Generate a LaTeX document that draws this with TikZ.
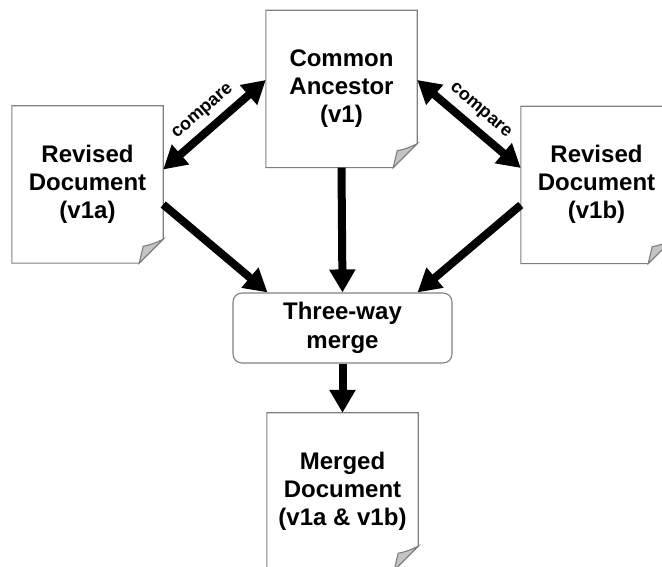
\documentclass[tikz,border=0pt]{standalone}
\usepackage{fontspec}
\setmainfont{Liberation Sans}
\usetikzlibrary{arrows.meta}
\definecolor{edgegray}{HTML}{7F7F7F}
\definecolor{foldgray}{HTML}{C4C4C4}

% sheet of paper with a curled lower-right corner, drawn round a named node
\newcommand\paperoutline[1]{%
  \draw[paperline] (#1.north west) -- (#1.north east)
    -- ([yshift=24pt]#1.south east) -- ([xshift=-24pt]#1.south east)
    -- (#1.south west) -- cycle;
  \filldraw[paperline, fill=foldgray] ([yshift=24pt]#1.south east)
    .. controls ([xshift=-8pt,yshift=20pt]#1.south east) and ([xshift=-14pt,yshift=18pt]#1.south east)
    .. ([xshift=-20pt,yshift=17pt]#1.south east) -- ([xshift=-24pt]#1.south east) -- cycle;
}
\newcommand\papertext[1]{\raisebox{11pt}{\begin{tabular}{@{}c@{}}#1\end{tabular}}}

\begin{document}
\begin{tikzpicture}[x=1pt,y=1pt,
  paperline/.style={draw=edgegray, line width=1.1pt},
  paper/.style={minimum width=151pt, minimum height=157pt, inner sep=0pt,
    font=\fontsize{24}{28}\selectfont\bfseries},
  mergebox/.style={draw=edgegray, line width=1.1pt, rounded corners=9pt,
    minimum width=219pt, minimum height=70pt, inner sep=0pt, align=center,
    font=\fontsize{24}{29}\selectfont\bfseries},
  bigtip/.tip={Triangle[length=23pt,width=25pt]},
  flow/.style={line width=8pt, -bigtip},
  twoway/.style={line width=8pt, bigtip-bigtip},
  cmp/.style={font=\fontsize{18}{20}\selectfont\bfseries, sloped, above=3pt, midway}]
\clip (0,0) rectangle (662,567);

% documents
\node[paper] (anc) at (341.5,478) {\papertext{Common\\Ancestor\\(v1)}};
\node[paper] (reva) at (87.5,382.5) {\papertext{Revised\\Document\\(v1a)}};
\node[paper] (revb) at (596.5,382) {\papertext{Revised\\Document\\(v1b)}};
\node[paper] (mrg) at (342.5,75.5) {\papertext{Merged\\Document\\(v1a \& v1b)}};
\paperoutline{anc}
\paperoutline{reva}
\paperoutline{revb}
\paperoutline{mrg}

% merge step
\node[mergebox] (tw) at (342.5,239) {Three-way\\merge};

% comparisons against the common ancestor
\draw[twoway] ([yshift=15pt]reva.east) -- ([yshift=9pt]anc.west) node[cmp] (cmpa) {compare};
\draw[twoway] ([yshift=9pt]anc.east) -- ([yshift=17pt]revb.west) node[cmp] (cmpb) {compare};

% inputs to the merge and its result
\draw[flow] ([yshift=-20pt]reva.east) -- ([xshift=-75pt]tw.north);
\draw[flow] (anc.south) -- (tw.north);
\draw[flow] ([yshift=-20pt]revb.west) -- ([xshift=75pt]tw.north);
\draw[flow] (tw.south) -- (mrg.north);
\end{tikzpicture}
\end{document}
